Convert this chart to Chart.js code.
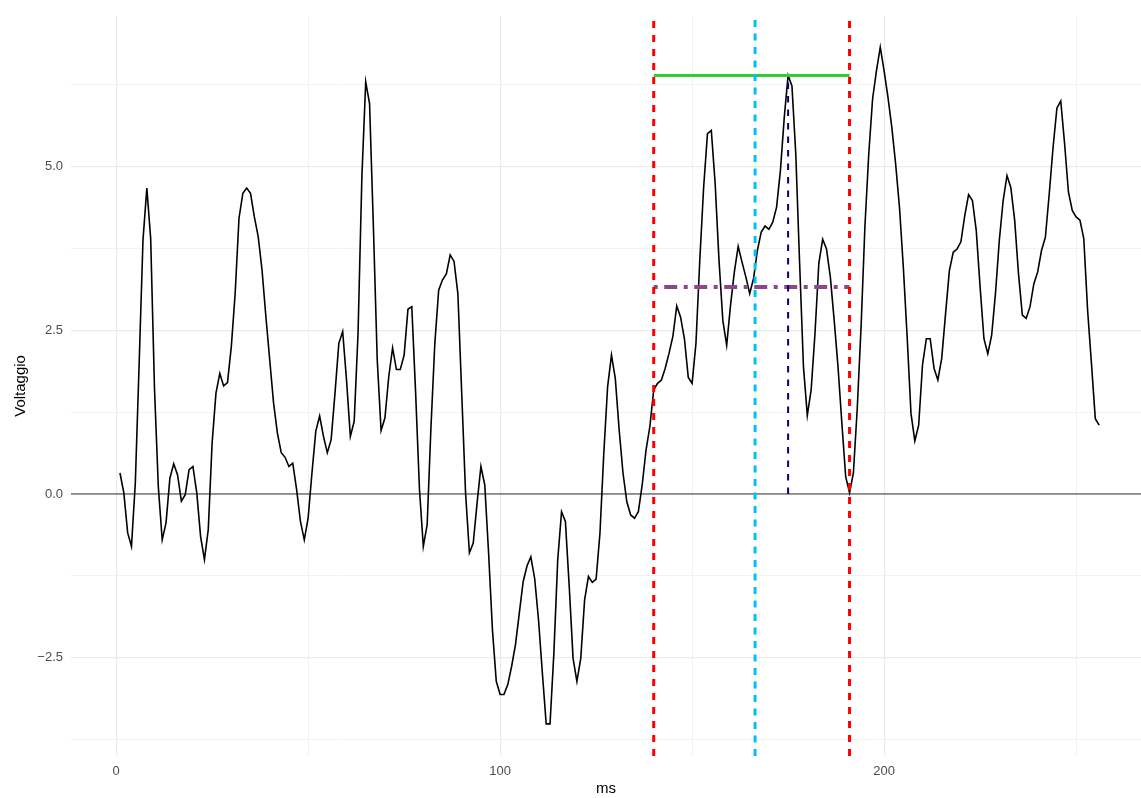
<!DOCTYPE html>
<html>
<head>
<meta charset="utf-8">
<script src="https://cdn.jsdelivr.net/npm/chart.js@4/dist/chart.umd.min.js"></script>
<style>
  html, body { margin: 0; padding: 0; background: #fff; }
  #wrap { width: 1141px; height: 798px; }
</style>
</head>
<body>
<div id="wrap"><canvas id="voltChart" width="1141" height="798"></canvas></div>
<script>
// time axis (ms)
const msValues = [
  1, 2, 3, 4, 5, 6, 7, 8, 9, 10, 11, 12, 13, 14, 15, 16, 17, 18, 19, 20,
  21, 22, 23, 24, 25, 26, 27, 28, 29, 30, 31, 32, 33, 34, 35, 36, 37, 38, 39, 40,
  41, 42, 43, 44, 45, 46, 47, 48, 49, 50, 51, 52, 53, 54, 55, 56, 57, 58, 59, 60,
  61, 62, 63, 64, 65, 66, 67, 68, 69, 70, 71, 72, 73, 74, 75, 76, 77, 78, 79, 80,
  81, 82, 83, 84, 85, 86, 87, 88, 89, 90, 91, 92, 93, 94, 95, 96, 97, 98, 99, 100,
  101, 102, 103, 104, 105, 106, 107, 108, 109, 110, 111, 112, 113, 114, 115, 116, 117, 118, 119, 120,
  121, 122, 123, 124, 125, 126, 127, 128, 129, 130, 131, 132, 133, 134, 135, 136, 137, 138, 139, 140,
  141, 142, 143, 144, 145, 146, 147, 148, 149, 150, 151, 152, 153, 154, 155, 156, 157, 158, 159, 160,
  161, 162, 163, 164, 165, 166, 167, 168, 169, 170, 171, 172, 173, 174, 175, 176, 177, 178, 179, 180,
  181, 182, 183, 184, 185, 186, 187, 188, 189, 190, 191, 192, 193, 194, 195, 196, 197, 198, 199, 200,
  201, 202, 203, 204, 205, 206, 207, 208, 209, 210, 211, 212, 213, 214, 215, 216, 217, 218, 219, 220,
  221, 222, 223, 224, 225, 226, 227, 228, 229, 230, 231, 232, 233, 234, 235, 236, 237, 238, 239, 240,
  241, 242, 243, 244, 245, 246, 247, 248, 249, 250, 251, 252, 253, 254, 255, 256
];

// voltage
const voltValues = [
  0.32, 0.02, -0.59, -0.80, 0.17, 2.00, 3.88, 4.67, 3.90, 1.60, 0.10, -0.70, -0.44, 0.24, 0.46, 0.29, -0.11, -0.01, 0.37, 0.42,
  0.02, -0.65, -1.00, -0.54, 0.78, 1.54, 1.84, 1.65, 1.70, 2.25, 3.06, 4.21, 4.59, 4.67, 4.59, 4.23, 3.93, 3.42, 2.71, 2.05,
  1.39, 0.93, 0.63, 0.56, 0.42, 0.47, 0.07, -0.42, -0.70, -0.37, 0.32, 0.96, 1.19, 0.88, 0.63, 0.83, 1.54, 2.30, 2.48, 1.74,
  0.88, 1.11, 2.45, 4.84, 6.29, 5.96, 4.08, 2.05, 0.97, 1.16, 1.79, 2.23, 1.90, 1.90, 2.12, 2.82, 2.86, 1.54, 0.07, -0.80,
  -0.47, 1.03, 2.30, 3.11, 3.27, 3.36, 3.65, 3.55, 3.06, 1.54, 0.02, -0.90, -0.75, -0.14, 0.42, 0.14, -0.90, -2.07, -2.86, -3.06,
  -3.06, -2.91, -2.63, -2.30, -1.82, -1.34, -1.10, -0.96, -1.29, -1.92, -2.73, -3.51, -3.51, -2.43, -1.01, -0.27, -0.42, -1.41, -2.51, -2.86,
  -2.51, -1.62, -1.26, -1.35, -1.30, -0.60, 0.62, 1.64, 2.12, 1.76, 0.98, 0.32, -0.12, -0.32, -0.37, -0.27, 0.14, 0.67, 1.03, 1.59,
  1.69, 1.74, 1.92, 2.15, 2.41, 2.87, 2.70, 2.37, 1.78, 1.69, 2.30, 3.57, 4.68, 5.50, 5.55, 4.74, 3.57, 2.65, 2.27, 2.88,
  3.39, 3.78, 3.54, 3.31, 3.06, 3.29, 3.72, 4.00, 4.09, 4.04, 4.15, 4.38, 4.94, 5.75, 6.39, 6.23, 5.19, 3.52, 1.94, 1.20,
  1.59, 2.45, 3.52, 3.89, 3.74, 3.31, 2.65, 1.94, 1.08, 0.26, 0.02, 0.32, 1.30, 2.55, 4.08, 5.19, 6.03, 6.46, 6.82, 6.46,
  6.06, 5.60, 5.04, 4.38, 3.47, 2.40, 1.23, 0.81, 1.05, 1.97, 2.37, 2.37, 1.92, 1.74, 2.07, 2.75, 3.41, 3.69, 3.74, 3.85,
  4.25, 4.57, 4.48, 4.02, 3.16, 2.37, 2.14, 2.42, 3.06, 3.87, 4.48, 4.86, 4.68, 4.18, 3.36, 2.73, 2.68, 2.86, 3.21, 3.39,
  3.72, 3.92, 4.58, 5.29, 5.89, 6.00, 5.35, 4.61, 4.33, 4.23, 4.18, 3.90, 2.80, 1.99, 1.15, 1.05
];

// markers
const windowMs = [140, 191];      // red dashed bounds
const centerMs = [166.4];         // light blue dashed
const peakMs = [175];             // navy dashed, from 0 up to peak
const peakLevel = [6.39];         // green line across the window
const meanLevel = [3.16];         // purple dot-dash across the window

// axis
const xTicks = [0, 50, 100, 150, 200, 250];
const yTicks = [-3.75, -2.5, -1.25, 0, 1.25, 2.5, 3.75, 5, 6.25];
const X_MIN = -11.75, X_MAX = 266.9;
const Y_MIN = -4.0, Y_MAX = 7.30;

const trace = msValues.map((m, i) => ({ x: m, y: voltValues[i] }));

function vline(x, color, width, dash, order) {
  return {
    data: [{ x: x, y: Y_MIN }, { x: x, y: Y_MAX }],
    borderColor: color, borderWidth: width, borderDash: dash, order: order
  };
}

function hseg(y, color, width, dash, order) {
  return {
    data: [{ x: windowMs[0], y: y }, { x: windowMs[1], y: y }],
    borderColor: color, borderWidth: width, borderDash: dash, order: order
  };
}

const datasets = [
  { data: [{ x: X_MIN, y: 0 }, { x: X_MAX, y: 0 }], borderColor: "#333333", borderWidth: 1, order: 30 },
  { data: trace, borderColor: "#000000", borderWidth: 1.6, order: 20 },
  hseg(peakLevel[0], "#32CD32", 3, [], 6),
  hseg(meanLevel[0], "#8B4789", 4, [4, 6.5, 13, 6.5], 5),
  {
    data: [{ x: peakMs[0], y: 0 }, { x: peakMs[0], y: peakLevel[0] }],
    borderColor: "#000080", borderWidth: 2, borderDash: [6.5, 7], order: 3
  },
  vline(centerMs[0], "#00BFFF", 3, [7, 6.5], 2),
  vline(windowMs[0], "#FF0000", 3, [7, 7], 1),
  vline(windowMs[1], "#FF0000", 3, [7, 7], 1)
];

const fmt = (v) => (v < 0 ? "\u2212" : "") + Math.abs(v).toFixed(1);

new Chart(document.getElementById("voltChart"), {
  type: "line",
  data: { datasets: datasets },
  options: {
    responsive: false,
    animation: false,
    layout: { padding: { top: 9, left: 12, right: 0, bottom: 0 } },
    elements: { point: { radius: 0 }, line: { tension: 0, fill: false } },
    plugins: { legend: { display: false }, tooltip: { enabled: false } },
    scales: {
      x: {
        type: "linear",
        min: X_MIN,
        max: X_MAX,
        afterBuildTicks: (scale) => { scale.ticks = xTicks.map(v => ({ value: v })); },
        afterFit: (scale) => { scale.height = 42; },
        border: { display: false },
        grid: {
          drawTicks: false,
          color: (ctx) => (ctx.tick && ctx.tick.value % 100 === 0) ? "#EBEBEB" : "#F2F2F2",
          lineWidth: (ctx) => (ctx.tick && ctx.tick.value % 100 === 0) ? 1.2 : 1
        },
        ticks: {
          padding: 8,
          color: "#4D4D4D",
          font: { family: "'Liberation Sans', Arial, sans-serif", size: 13 },
          maxRotation: 0,
          autoSkip: false,
          callback: (v) => (v % 100 === 0 ? String(v) : "")
        },
        title: {
          display: true, text: "ms", color: "#000000", padding: 0,
          font: { family: "'Liberation Sans', Arial, sans-serif", size: 15 }
        }
      },
      y: {
        type: "linear",
        min: Y_MIN,
        max: Y_MAX,
        afterBuildTicks: (scale) => { scale.ticks = yTicks.map(v => ({ value: v })); },
        afterFit: (scale) => { scale.width = 59; },
        border: { display: false },
        grid: {
          drawTicks: false,
          color: (ctx) => (ctx.tick && ctx.tick.value % 2.5 === 0) ? "#EBEBEB" : "#F2F2F2",
          lineWidth: (ctx) => (ctx.tick && ctx.tick.value % 2.5 === 0) ? 1.2 : 1
        },
        ticks: {
          padding: 8,
          color: "#4D4D4D",
          font: { family: "'Liberation Sans', Arial, sans-serif", size: 13 },
          autoSkip: false,
          callback: (v) => (v % 2.5 === 0 ? fmt(v) : "")
        },
        title: {
          display: true, text: "Voltaggio", color: "#000000", padding: 0,
          font: { family: "'Liberation Sans', Arial, sans-serif", size: 15 }
        }
      }
    }
  }
});
</script>
</body>
</html>
